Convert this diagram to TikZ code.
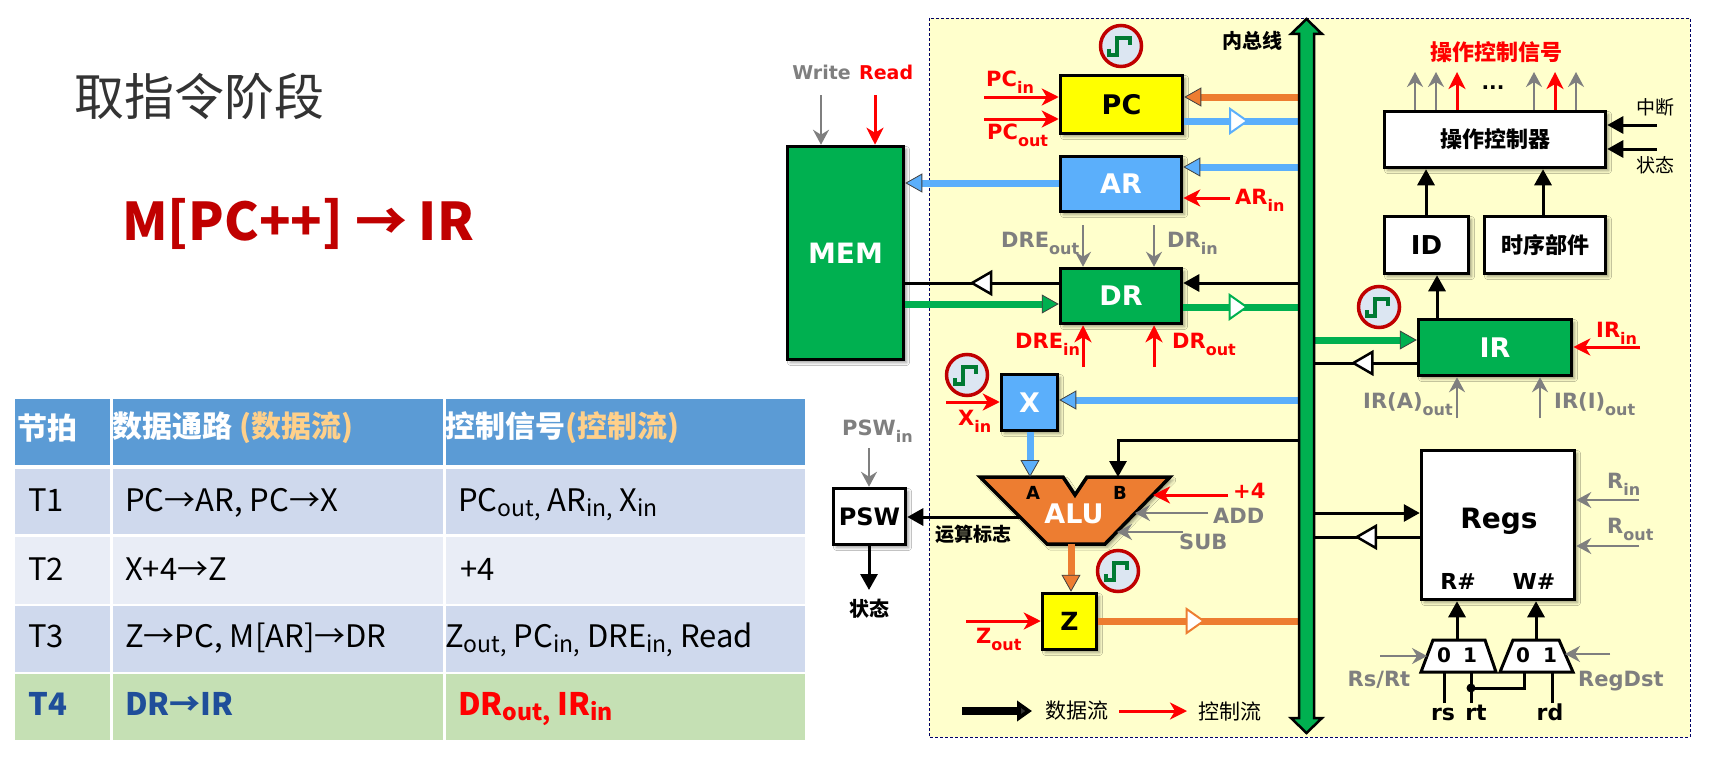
\documentclass[tikz,border=0pt]{standalone}
\usepackage{fontspec}
\setmainfont{DejaVu Sans}
\newfontfamily\cjk{Noto Sans CJK SC}
\usetikzlibrary{arrows.meta,shadows.blur,decorations.markings}
\definecolor{panel}{HTML}{FFFFCC}
\definecolor{cy}{HTML}{FFFF00}
\definecolor{cb}{HTML}{5BAFFB}
\definecolor{cg}{HTML}{00B050}
\definecolor{co}{HTML}{ED7D31}
\definecolor{cr}{HTML}{FF0000}
\definecolor{cgr}{HTML}{7F7F7F}
\definecolor{ring}{HTML}{C00000}
\definecolor{clkbg}{HTML}{DCE6F2}
\definecolor{wave}{HTML}{007A33}
\definecolor{hdr}{HTML}{5B9BD5}
\definecolor{rowa}{HTML}{CFD9ED}
\definecolor{rowb}{HTML}{E9EDF6}
\definecolor{rowg}{HTML}{C5E0B4}
\definecolor{hor}{HTML}{FFD08A}
\definecolor{dblue}{HTML}{1F4E9A}
\definecolor{dred}{HTML}{C00000}
\definecolor{ttl}{HTML}{333333}
\newcommand\myfs[1]{\fontsize{#1bp}{#1bp}\selectfont}
\newcommand\lbsub[1]{\raisebox{-7bp}{\myfs{16}#1}}
\newcommand\tbsub[1]{\raisebox{-5bp}{\myfs{23}#1}}
\begin{document}
\begin{tikzpicture}[x=1bp,y=-1bp,
  box/.style={draw=black, line width=3.5bp, inner sep=0pt, font=\bfseries\myfs{27},
    blur shadow={shadow xshift=3bp, shadow yshift=-3bp, shadow blur radius=3bp, shadow opacity=40}},
  sz/.style 2 args={minimum width=#1bp, minimum height=#2bp},
  lbl/.style={font=\bfseries\myfs{21}, inner sep=0pt, anchor=base west},
  cjl/.style={font=\cjk\myfs{20}, inner sep=0pt},
  tt/.style={font=\cjk\myfs{31}, inner sep=0pt, anchor=base west},
  ctl/.style={draw=cr, line width=3bp, -{Stealth[length=17bp,width=17bp,inset=5bp]}},
  gry/.style={draw=cgr, line width=2bp, -{Stealth[length=15bp,width=16bp,inset=5bp]}},
  dat/.style={draw=black, line width=3bp, -{Triangle[length=16bp,width=17bp]}},
  blk/.style={draw=black, line width=3bp},
  wire/.style={draw=black, line width=3bp},
  thk/.style={draw=#1, line width=7bp, -{Triangle[length=17bp,width=19bp,fill=#1,color=black!75,line width=0.8bp]}},
  fat/.style={draw=#1, line width=7bp},
  tbuf/.style 2 args={postaction={decorate}, decoration={markings, mark=at position #1 with {\draw[draw=#2, fill=white, line width=2bp, line join=miter] (-8,-12) -- (9,0) -- (-8,12) -- cycle;}}},
  tbufk/.style={postaction={decorate}, decoration={markings, mark=at position #1 with {\draw[draw=black, fill=white, line width=2.5bp, line join=miter] (-9,-11) -- (10,0) -- (-9,11) -- cycle;}}},
  clock/.pic={\draw[draw=ring, fill=clkbg, line width=3.5bp] (0,0) circle (20.5bp);
    \draw[draw=wave, line width=3.5bp, line join=miter] (-12,3) -- (-12,9) -- (-4,9) -- (-4,-8) -- (9,-8) -- (9,-1);}
]
\useasboundingbox (0,0) rectangle (1718,773);
\fill[white] (0,0) rectangle (1718,773);

% ---------- title ----------
\node[font=\cjk\myfs{50}, text=ttl, anchor=west, inner sep=0pt] (title) at (74,96) {取指令阶段};
\node[font=\cjk\bfseries\myfs{52}, text=dred, anchor=base west, inner sep=0pt] (fetch) at (122,240) {M[PC++] → IR};

% ---------- table ----------
\fill[hdr] (15,399) rectangle (805,465);
\fill[rowa] (15,469) rectangle (805,534);
\fill[rowb] (15,537) rectangle (805,604);
\fill[rowa] (15,606) rectangle (805,672);
\fill[rowg] (15,674) rectangle (805,740);
\draw[white, line width=3bp] (111,399) -- (111,740);
\draw[white, line width=3bp] (444,399) -- (444,740);
\node[tt, font=\cjk\bfseries\myfs{30}, text=white, anchor=west] (h1) at (17,428) {节拍};
\node[tt, font=\cjk\bfseries\myfs{30}, text=white, anchor=west] (h2) at (112,428) {数据通路 \textcolor{hor}{(数据流)}};
\node[tt, font=\cjk\bfseries\myfs{30}, text=white, anchor=west] (h3) at (445,428) {控制信号\textcolor{hor}{(控制流)}};
\node[tt] (t1a) at (28,511) {T1};
\node[tt] (t1b) at (125,511) {PC→AR, PC→X};
\node[tt] (t1c) at (458,511) {PC\tbsub{out,} AR\tbsub{in,} X\tbsub{in}};
\node[tt] (t2a) at (28,580) {T2};
\node[tt] (t2b) at (125,580) {X+4→Z};
\node[tt] (t2c) at (460,580) {+4};
\node[tt] (t3a) at (28,647) {T3};
\node[tt] (t3b) at (125,647) {Z→PC, M[AR]→DR};
\node[tt] (t3c) at (445,647) {Z\tbsub{out,} PC\tbsub{in,} DRE\tbsub{in,} Read};
\node[tt, font=\cjk\bfseries\myfs{31}, text=dblue] (t4a) at (28,715) {T4};
\node[tt, font=\cjk\bfseries\myfs{31}, text=dblue] (t4b) at (125,715) {DR→IR};
\node[tt, font=\cjk\bfseries\myfs{31}, text=cr] (t4c) at (458,715) {DR\tbsub{out,} IR\tbsub{in}};

% ---------- panel ----------
\draw[draw=black!60!blue, dash pattern=on 3bp off 2bp, line width=0.8bp, fill=panel] (929,18) rectangle (1690,737);

% ---------- boxes ----------
\node[box, fill=cy, sz={122}{58}] (pc) at (1121.5,104.5) {PC};
\node[box, fill=cb, text=white, sz={121}{55}] (ar) at (1121,184) {AR};
\node[box, fill=cg, text=white, sz={121}{55}] (dr) at (1121,296) {DR};
\node[box, fill=cg, text=white, sz={116}{213}, font=\bfseries\myfs{28}] (mem) at (845.5,253) {MEM};
\node[box, fill=cb, text=white, sz={56}{56}] (xr) at (1029.5,402.5) {X};
\node[box, fill=cy, sz={54}{56}, font=\bfseries\myfs{25}] (zr) at (1069.5,621.5) {Z};
\node[box, fill=white, sz={72}{56}, font=\bfseries\myfs{24}] (psw) at (869.5,516.5) {PSW};
\node[box, fill=cg, text=white, sz={153}{56}] (ir) at (1495,347.5) {IR};
\node[box, fill=white, sz={84}{57}, font=\bfseries\myfs{26}] (id) at (1426.5,245) {ID};
\node[box, fill=white, sz={121}{57}, font=\cjk\bfseries\myfs{22}] (ts) at (1545,245) {时序部件};
\node[box, fill=white, sz={221}{56}, font=\cjk\bfseries\myfs{22}] (ctrl) at (1495,139.5) {操作控制器};
\node[box, fill=white, sz={153}{149}] (regs) at (1498,525) {};
\node[font=\bfseries\myfs{28}, inner sep=0pt, anchor=base] (regst) at (1499,528) {Regs};
\node[font=\bfseries\myfs{22}, inner sep=0pt, anchor=base] (rsharp) at (1458,589) {R\#};
\node[font=\bfseries\myfs{22}, inner sep=0pt, anchor=base] (wsharp) at (1534,589) {W\#};

% ALU
\draw[line width=3.5bp, fill=co, line join=miter, blur shadow={shadow xshift=3bp, shadow yshift=-3bp, shadow blur radius=3bp, shadow opacity=40}]
  (980,477) -- (1063,477) -- (1075,495) -- (1087,477) -- (1170,477) -- (1105,544) -- (1047,544) -- cycle;
\node[font=\bfseries\myfs{18}, inner sep=0pt, anchor=base] (alua) at (1033,499) {A};
\node[font=\bfseries\myfs{18}, inner sep=0pt, anchor=base] (alub) at (1120,499) {B};
\node[font=\bfseries\myfs{27}, text=white, inner sep=0pt, anchor=base] (alut) at (1074,523) {ALU};
\coordinate (aluA) at (1030,477);
\coordinate (aluB) at (1118,477);
\coordinate (aluO) at (1071,544);
\coordinate (aluF) at (1020,517);
\coordinate (alu4) at (1153,495);
\coordinate (aluAdd) at (1135,513);
\coordinate (aluSub) at (1117,532);

% muxes
\draw[line width=3bp, fill=white, line join=miter] (1433,640) -- (1485,640) -- (1496,672) -- (1421,672) -- cycle;
\draw[line width=3bp, fill=white, line join=miter] (1513,640) -- (1559,640) -- (1573,672) -- (1500,672) -- cycle;
\node[font=\bfseries\myfs{20}, inner sep=0pt, anchor=base] (m10) at (1444,662) {0};
\node[font=\bfseries\myfs{20}, inner sep=0pt, anchor=base] (m11) at (1470,662) {1};
\node[font=\bfseries\myfs{20}, inner sep=0pt, anchor=base] (m20) at (1523,662) {0};
\node[font=\bfseries\myfs{20}, inner sep=0pt, anchor=base] (m21) at (1550,662) {1};

% ---------- clocks ----------
\pic at (1121,46) {clock};
\pic at (967,375) {clock};
\pic at (1379,307) {clock};
\pic at (1118,571) {clock};

% ---------- bus coordinates ----------
\coordinate (busL) at (1299,0);
\coordinate (busR) at (1314,0);

% MEM
\coordinate (wr) at (821,95);
\coordinate (rd0) at (875,95);
\draw[gry] (wr) -- (wr |- mem.north);
\draw[ctl] (rd0) -- (rd0 |- mem.north);
\node[lbl, font=\bfseries\myfs{19}, anchor=base east, text=cgr] (wlab) at (851,80) {Write};
\node[lbl, font=\bfseries\myfs{19}, anchor=base west, text=cr] (rlab) at (859,80) {Read};
\draw[thk=cb] (ar.west |- 0,183) -- (mem.east |- 0,183);
\draw[blk, tbufk=0.5] (dr.west |- 0,283) -- (mem.east |- 0,283);
\draw[thk=cg] (mem.east |- 0,304) -- (dr.west |- 0,304);

% PC
\draw[thk=co] (busL |- 0,97) -- (pc.east |- 0,97);
\draw[fat=cb, tbuf={0.47}{cb}] (pc.east |- 0,121) -- (busL |- 0,121);
\coordinate (pcin) at (984,97);
\coordinate (pcout) at (984,119);
\draw[ctl] (pcin) -- (pc.west |- pcin);
\draw[ctl] (pcout) -- (pc.west |- pcout);
\node[lbl, text=cr] (lpcin) at (986,86) {PC\lbsub{in}};
\node[lbl, text=cr] (lpcout) at (987,139) {PC\lbsub{out}};

% AR
\draw[thk=cb] (busL |- 0,167) -- (ar.east |- 0,167);
\coordinate (arin) at (1230,198);
\draw[ctl] (arin) -- (ar.east |- arin);
\node[lbl, text=cr] (larin) at (1235,204) {AR\lbsub{in}};

% DR
\draw[dat] (busL |- 0,283) -- (dr.east |- 0,283);
\draw[fat=cg, tbuf={0.47}{cg}] (dr.east |- 0,307) -- (busL |- 0,307);
\coordinate (dreo) at (1083,225);
\coordinate (dri) at (1154,225);
\coordinate (drei) at (1083,367);
\coordinate (dro) at (1154,367);
\draw[gry] (dreo) -- (dreo |- dr.north);
\draw[gry] (dri) -- (dri |- dr.north);
\draw[ctl] (drei) -- (drei |- dr.south);
\draw[ctl] (dro) -- (dro |- dr.south);
\node[lbl, text=cgr] (ldreo) at (1001,247) {DRE\lbsub{out}};
\node[lbl, text=cgr] (ldri) at (1167,247) {DR\lbsub{in}};
\node[lbl, text=cr] (ldrei) at (1015,348) {DRE\lbsub{in}};
\node[lbl, text=cr] (ldro) at (1172,348) {DR\lbsub{out}};

% X and ALU
\draw[thk=cb] (busL |- 0,400) -- (xr.east |- 0,400);
\coordinate (xin) at (946,402);
\draw[ctl] (xin) -- (xr.west |- xin);
\node[lbl, text=cr] (lxin) at (958,425) {X\lbsub{in}};
\draw[thk=cb] (aluA |- xr.south) -- (aluA);
\draw[dat] (busL |- 0,440) -| (aluB);
\coordinate (p4) at (1228,495);
\coordinate (padd) at (1208,513);
\coordinate (psub) at (1183,532);
\draw[ctl] (p4) -- (alu4);
\draw[gry] (padd) -- (aluAdd);
\draw[gry] (psub) -- (aluSub);
\node[lbl, text=cr] (lp4) at (1233,498) {+4};
\node[lbl, text=cgr] (ladd) at (1213,523) {ADD};
\node[lbl, text=cgr] (lsub) at (1179,549) {SUB};

% PSW
\draw[dat] (aluF) -- (psw.east |- aluF);
\node[cjl, font=\cjk\bfseries\myfs{19}, anchor=west] (flag) at (935,534) {运算标志};
\coordinate (pswin) at (869,448);
\draw[gry] (pswin) -- (pswin |- psw.north);
\node[lbl, text=cgr] (lpswin) at (842,435) {PSW\lbsub{in}};
\coordinate (pswst) at (869,590);
\draw[dat] (pswst |- psw.south) -- (pswst);
\node[cjl, font=\cjk\bfseries\myfs{20}] (st1) at (869,609) {状态};

% Z
\draw[thk=co] (aluO) -- (aluO |- zr.north);
\coordinate (zout) at (966,621);
\draw[ctl] (zout) -- (zr.west |- zout);
\node[lbl, text=cr] (lzout) at (976,643) {Z\lbsub{out}};
\draw[fat=co, tbuf={0.48}{co}] (zr.east |- 0,621) -- (busL |- 0,621);

% IR
\draw[thk=cg] (busR |- 0,340) -- (ir.west |- 0,340);
\draw[blk, tbufk=0.52] (ir.west |- 0,363) -- (busR |- 0,363);
\coordinate (irin) at (1640,347);
\draw[ctl] (irin) -- (ir.east |- irin);
\node[lbl, text=cr] (lirin) at (1596,337) {IR\lbsub{in}};
\coordinate (ida) at (1437,0);
\coordinate (idb) at (1426,0);
\coordinate (tsb) at (1543,0);
\draw[dat] (ida |- ir.north) -- (ida |- id.south);
\draw[dat] (idb |- id.north) -- (idb |- ctrl.south);
\draw[dat] (tsb |- ts.north) -- (tsb |- ctrl.south);
\coordinate (iraa) at (1457,418);
\coordinate (iria) at (1540,418);
\draw[gry] (iraa) -- (iraa |- ir.south);
\draw[gry] (iria) -- (iria |- ir.south);
\node[lbl, text=cgr] (liraa) at (1363,408) {IR(A)\lbsub{out}};
\node[lbl, text=cgr] (liria) at (1554,408) {IR(I)\lbsub{out}};

% controller
\foreach \xx/\cc [count=\i] in {1415/gry,1436/gry,1457/ctl,1534/gry,1555/ctl,1576/gry}{
  \coordinate (o\i) at (\xx,72);
  \draw[\cc] (o\i |- ctrl.north) -- (o\i);
}
\node[font=\bfseries\myfs{20}, inner sep=0pt, anchor=base] (dots) at (1493,89) {...};
\node[cjl, font=\cjk\bfseries\myfs{22}, text=cr] (sig) at (1496,52) {操作控制信号};
\coordinate (intr) at (1657,125);
\coordinate (stat) at (1657,149);
\draw[dat] (intr) -- (ctrl.east |- intr);
\draw[dat] (stat) -- (ctrl.east |- stat);
\node[cjl, font=\cjk\myfs{19}] (lintr) at (1655,107) {中断};
\node[cjl, font=\cjk\myfs{19}] (lstat) at (1655,165) {状态};

% Regs
\draw[dat] (busR |- 0,513) -- (regs.west |- 0,513);
\draw[blk, tbufk=0.5] (regs.west |- 0,537) -- (busR |- 0,537);
\coordinate (rin) at (1639,500);
\coordinate (rout) at (1639,546);
\draw[gry] (rin) -- (regs.east |- rin);
\draw[gry] (rout) -- (regs.east |- rout);
\node[lbl, text=cgr] (lrin) at (1607,488) {R\lbsub{in}};
\node[lbl, text=cgr] (lrout) at (1607,533) {R\lbsub{out}};
\coordinate (m1) at (1457,640);
\coordinate (m2) at (1536,640);
\draw[dat] (m1) -- (m1 |- regs.south);
\draw[dat] (m2) -- (m2 |- regs.south);
\coordinate (m1a) at (1444,672);
\coordinate (m1b) at (1471,672);
\coordinate (m2a) at (1524,672);
\coordinate (m2b) at (1552,672);
\coordinate (rsb) at (1444,703);
\coordinate (rtb) at (1471,703);
\coordinate (rdb) at (1552,703);
\coordinate (rtj) at (1471,688);
\draw[wire] (rsb) -- (m1a);
\draw[wire] (rtb) -- (m1b);
\draw[wire] (rtj) -| (m2a);
\draw[wire] (rdb) -- (m2b);
\fill (rtj) circle (4.5bp);
\coordinate (m1l) at (1427,656);
\coordinate (m2r) at (1565,654);
\coordinate (rsrt) at (1380,656);
\coordinate (rdst) at (1610,654);
\draw[gry] (rsrt) -- (m1l);
\draw[gry] (rdst) -- (m2r);
\node[lbl, text=cgr, anchor=base] (lrsrt) at (1379,686) {Rs/Rt};
\node[lbl, text=cgr] (lrdst) at (1578,686) {RegDst};
\node[font=\bfseries\myfs{22}, inner sep=0pt, anchor=base] (lrs) at (1443,720) {rs};
\node[font=\bfseries\myfs{22}, inner sep=0pt, anchor=base] (lrt) at (1476,720) {rt};
\node[font=\bfseries\myfs{22}, inner sep=0pt, anchor=base] (lrd) at (1550,720) {rd};

% legend
\coordinate (lg1) at (962,711);
\coordinate (lg2) at (1032,711);
\coordinate (lg3) at (1119,711);
\coordinate (lg4) at (1187,711);
\draw[line width=8bp, -{Triangle[length=15bp,width=20bp]}] (lg1) -- (lg2);
\draw[ctl] (lg3) -- (lg4);
\node[cjl, font=\cjk\myfs{21}, anchor=west] (lgd) at (1045,711) {数据流};
\node[cjl, font=\cjk\myfs{21}, anchor=west] (lgc) at (1198,711) {控制流};

% ---------- bus ----------
\filldraw[fill=cg, draw=black, line width=2.5bp, line join=miter] (1299,34) -- (1291,34) -- (1306.5,19) -- (1322,34) -- (1314,34) -- (1314,718) -- (1322,718) -- (1306.5,733) -- (1291,718) -- (1299,718) -- cycle;
\node[cjl, font=\cjk\bfseries\myfs{20}] (busl) at (1252,41) {内总线};
\end{tikzpicture}
\end{document}
